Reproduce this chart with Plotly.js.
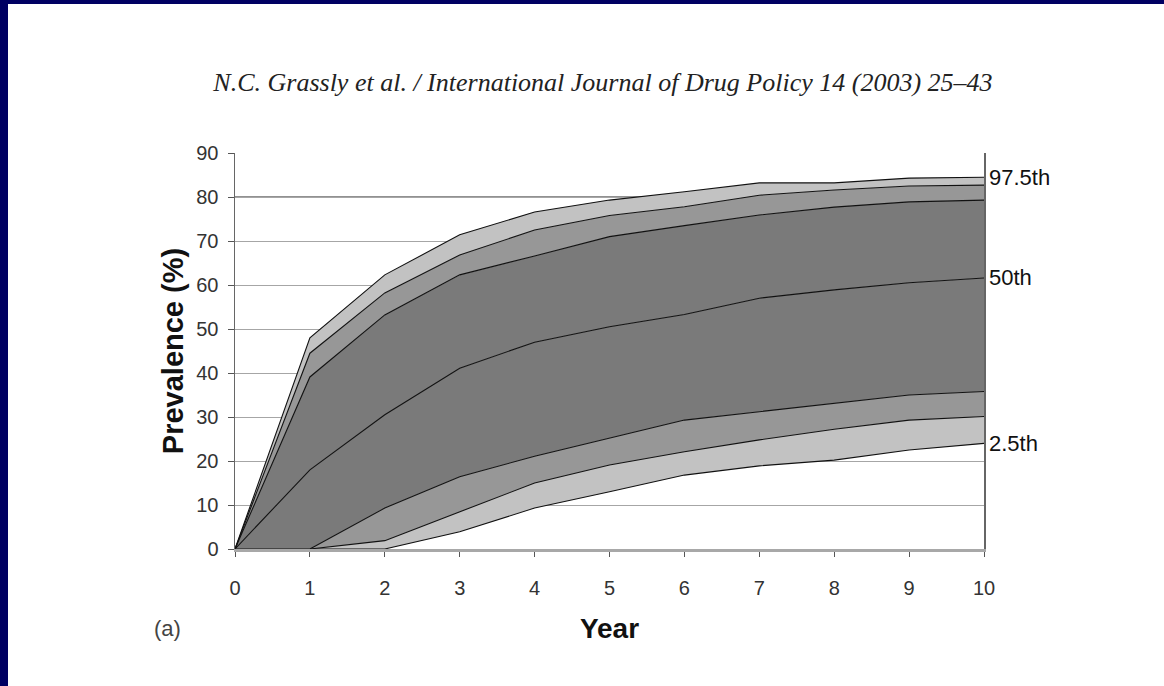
<!DOCTYPE html>
<html>
<head>
<meta charset="utf-8">
<script src="https://cdn.plot.ly/plotly-3.0.1.min.js"></script>
<style>
  html, body { margin: 0; padding: 0; background: #ffffff; }
  #chart { position: absolute; left: 0; top: 0; width: 1164px; height: 686px; }
  #bl { position: absolute; left: 0; top: 0; width: 8px; height: 686px; background: #000062; z-index: 10; }
  #bt { position: absolute; left: 0; top: 0; width: 1164px; height: 4px; background: #000062; z-index: 10; }
</style>
</head>
<body>
<div id="chart"></div>
<div id="bl"></div>
<div id="bt"></div>
<script>
// Years
const years = [0, 1, 2, 3, 4, 5, 6, 7, 8, 9, 10];
// Percentile curves of prevalence (%)
const p975 = [0, 48, 62.3, 71.4, 76.6, 79.3, 81.2, 83.2, 83.2, 84.3, 84.5];
const pUpper2 = [0, 44.5, 58.2, 66.8, 72.5, 75.8, 77.8, 80.4, 81.6, 82.5, 82.7];
const pUpper3 = [0, 39.1, 53.2, 62.3, 66.6, 71, 73.5, 75.9, 77.7, 78.9, 79.3];
const p50 = [0, 18, 30.5, 41.1, 47, 50.5, 53.3, 57, 58.9, 60.5, 61.6];
const pLower3 = [0, 0, 9.3, 16.4, 21.1, 25.2, 29.3, 31.2, 33.1, 35, 35.8];
const pLower2 = [0, 0, 1.9, 8.5, 15, 19.1, 22.1, 24.8, 27.2, 29.3, 30.1];
const p025 = [0, 0, 0, 3.9, 9.3, 13, 16.8, 18.9, 20.2, 22.5, 24];
const labelNames = ["97.5th", "50th", "2.5th"];

const light = "#c2c2c2", mid = "#979797", dark = "#7a7a7a";
const lineStyle = {color: "#111111", width: 1.1};

function tr(y, fillColor) {
  const t = {x: years, y: y, type: "scatter", mode: "lines", line: lineStyle, hoverinfo: "skip", showlegend: false};
  if (fillColor) { t.fill = "tonexty"; t.fillcolor = fillColor; }
  return t;
}

const data = [
  tr(p025, null),
  tr(pLower2, light),
  tr(pLower3, mid),
  tr(p50, dark),
  tr(pUpper3, dark),
  tr(pUpper2, mid),
  tr(p975, light)
];

const fontFam = "Liberation Sans, Arial, sans-serif";
const annotations = [
  {x: years[years.length-1], y: p975[p975.length-1], text: labelNames[0]},
  {x: years[years.length-1], y: p50[p50.length-1], text: labelNames[1]},
  {x: years[years.length-1], y: p025[p025.length-1], text: labelNames[2]}
].map(a => Object.assign(a, {xref: "x", yref: "y", xanchor: "left", yanchor: "middle", xshift: 3, showarrow: false, font: {family: fontFam, size: 22, color: "#111"}}));
annotations.push({xref: "paper", yref: "paper", x: -0.0895, y: -0.1995, text: "(a)", showarrow: false, xanchor: "center", yanchor: "middle", font: {family: fontFam, size: 22, color: "#444"}});

const layout = {
  width: 1164, height: 686,
  paper_bgcolor: "#ffffff", plot_bgcolor: "#ffffff",
  margin: {l: 235, r: 180, t: 153, b: 137},
  title: {
    text: "<i>N.C. Grassly et al. / International Journal of Drug Policy 14 (2003) 25–43</i>",
    x: 0.518, xref: "container", xanchor: "center",
    y: 1 - 82/686, yref: "container", yanchor: "middle",
    font: {family: "Liberation Serif, Times New Roman, serif", size: 26, color: "#222"}
  },
  xaxis: {
    range: [0, 10], dtick: 1, tick0: 0,
    showgrid: false, zeroline: false,
    showline: true, linecolor: "#a8a8a8", linewidth: 2.5,
    ticks: "outside", ticklen: 5, tickcolor: "#555", tickwidth: 1,
    ticklabelstandoff: 14,
    tickfont: {family: fontFam, size: 20, color: "#333"},
    title: {text: "<b>Year</b>", standoff: 21, font: {family: fontFam, size: 28, color: "#111"}}
  },
  yaxis: {
    range: [0, 90], dtick: 10, tick0: 0,
    showgrid: true, gridcolor: "#a6a6a6", gridwidth: 1,
    zeroline: false,
    showline: true, mirror: true, linecolor: "#666", linewidth: 1.5,
    ticks: "outside", ticklen: 6, tickcolor: "#555", tickwidth: 1,
    ticklabelstandoff: 5,
    tickfont: {family: fontFam, size: 20, color: "#333"},
    title: {text: "<b>Prevalence (%)</b>", standoff: 4, font: {family: fontFam, size: 29, color: "#111"}}
  },
  shapes: [
    {type: "line", xref: "paper", yref: "y", x0: 0, x1: 1, y0: 80, y1: 80, layer: "below", line: {color: "#222", width: 1}}
  ],
  annotations: annotations
};

Plotly.newPlot("chart", data, layout, {displayModeBar: false, staticPlot: true});
</script>
</body>
</html>
